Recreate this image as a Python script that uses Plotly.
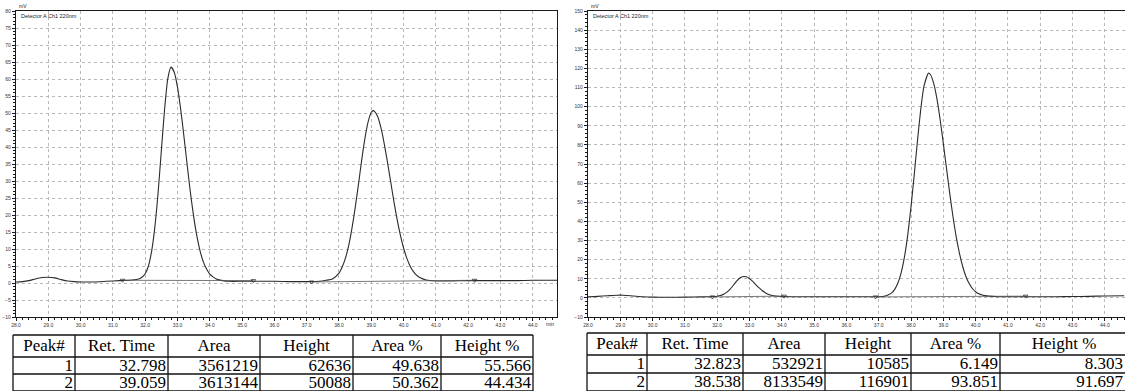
import plotly.graph_objects as go

# ---------------- data ----------------
left_time = [28.0, 28.2, 28.4, 28.6, 28.8, 29.0, 29.2, 29.4, 29.6, 29.8, 30.0, 30.4, 30.8, 31.2, 31.6, 31.8,
             31.9, 32.0, 32.1, 32.2, 32.3, 32.4, 32.5, 32.6, 32.7, 32.8, 32.9, 33.0, 33.1, 33.2, 33.3, 33.4,
             33.5, 33.6, 33.7, 33.8, 33.9, 34.0, 34.1, 34.2, 34.4, 34.6, 35.0, 35.5, 36.0, 36.5, 37.0, 37.4,
             37.6, 37.8, 38.0, 38.1, 38.2, 38.3, 38.4, 38.5, 38.6, 38.7, 38.8, 38.9, 39.0, 39.06, 39.1, 39.2,
             39.3, 39.4, 39.5, 39.6, 39.7, 39.8, 39.9, 40.0, 40.1, 40.2, 40.3, 40.4, 40.5, 40.7, 41.0, 41.5,
             42.0, 42.5, 43.0, 43.5, 44.0, 44.75]
left_mv = [0.3, 0.4, 0.7, 1.2, 1.6, 1.7, 1.5, 1.0, 0.6, 0.4, 0.3, 0.3, 0.5, 0.7, 0.9, 1.2,
           1.7, 2.7, 5.0, 9.4, 16.5, 26.6, 38.9, 51.0, 60.1, 63.5, 62.0, 57.6, 51.0, 43.1, 34.7, 26.6,
           19.6, 13.8, 9.4, 6.2, 4.1, 2.6, 1.8, 1.2, 0.7, 0.5, 0.5, 0.5, 0.5, 0.4, 0.4, 0.5,
           0.8, 1.2, 2.9, 4.7, 7.3, 11.0, 16.0, 22.0, 28.8, 35.9, 42.3, 47.3, 50.2, 50.7, 50.5, 48.9,
           45.6, 41.0, 35.6, 29.8, 24.0, 18.7, 14.1, 10.3, 7.3, 5.0, 3.4, 2.3, 1.6, 0.9, 0.6, 0.6,
           0.7, 0.7, 0.7, 0.7, 0.8, 0.8]

right_time = [28.0, 28.3, 28.6, 28.9, 29.1, 29.4, 29.7, 30.0, 30.5, 31.0, 31.5, 31.9, 32.0, 32.1, 32.2, 32.3,
              32.4, 32.5, 32.6, 32.7, 32.82, 32.9, 33.0, 33.1, 33.2, 33.3, 33.4, 33.5, 33.6, 33.7, 33.8, 34.0,
              34.5, 35.0, 35.5, 36.0, 36.5, 37.0, 37.2, 37.3, 37.4, 37.5, 37.6, 37.7, 37.8, 37.9, 38.0, 38.1,
              38.2, 38.3, 38.4, 38.54, 38.6, 38.7, 38.8, 38.9, 39.0, 39.1, 39.2, 39.3, 39.4, 39.5, 39.6, 39.7,
              39.8, 39.9, 40.0, 40.1, 40.2, 40.4, 40.7, 41.0, 41.5, 42.0, 42.5, 43.0, 43.5, 44.0, 44.6]
right_mv = [0.6, 0.8, 1.1, 1.4, 1.4, 1.0, 0.6, 0.4, 0.3, 0.4, 0.5, 0.7, 0.85, 1.2, 1.85, 3.0,
            4.6, 6.6, 8.7, 10.4, 11.2, 11.0, 10.0, 8.6, 6.85, 5.2, 3.7, 2.6, 1.75, 1.25, 0.95, 0.7,
            0.6, 0.6, 0.6, 0.6, 0.6, 0.6, 1.0, 1.6, 2.6, 4.6, 8.0, 13.5, 21.7, 33.1, 47.6, 64.4,
            82.1, 98.3, 110.6, 117.5, 116.8, 112.3, 104.3, 93.4, 80.8, 67.5, 54.5, 42.4, 31.9, 23.3, 16.4, 11.2,
            7.5, 4.9, 3.2, 2.1, 1.5, 0.9, 0.6, 0.6, 0.6, 0.6, 0.6, 0.7, 0.8, 1.0, 1.1]

# integration marks (start / end of each peak)
left_mark_time = [31.3, 35.35, 37.15, 42.2]
left_mark_mv = [0.8, 0.7, 0.3, 0.8]
right_mark_time = [31.85, 34.07, 36.9, 41.55]
right_mark_mv = [0.5, 0.9, 0.5, 0.9]

x_ticks = [28.0, 29.0, 30.0, 31.0, 32.0, 33.0, 34.0, 35.0, 36.0, 37.0, 38.0, 39.0, 40.0, 41.0, 42.0, 43.0, 44.0]
x_tick_text = ["28.0", "29.0", "30.0", "31.0", "32.0", "33.0", "34.0", "35.0", "36.0",
               "37.0", "38.0", "39.0", "40.0", "41.0", "42.0", "43.0", "44.0"]
left_y_ticks = [-10, -5, 0, 5, 10, 15, 20, 25, 30, 35, 40, 45, 50, 55, 60, 65, 70, 75, 80]
right_y_ticks = [-10, 0, 10, 20, 30, 40, 50, 60, 70, 80, 90, 100, 110, 120, 130, 140, 150]

table_header = ["Peak#", "Ret. Time", "Area", "Height", "Area %", "Height %"]
left_peak = ["1", "2"]
left_ret = ["32.798", "39.059"]
left_area = ["3561219", "3613144"]
left_height = ["62636", "50088"]
left_area_pct = ["49.638", "50.362"]
left_height_pct = ["55.566", "44.434"]
right_peak = ["1", "2"]
right_ret = ["32.823", "38.538"]
right_area = ["532921", "8133549"]
right_height = ["10585", "116901"]
right_area_pct = ["6.149", "93.851"]
right_height_pct = ["8.303", "91.697"]

# ---------------- figure ----------------
W, H = 1125, 391
LINE = "#1a1a1a"
TRACE = "#2b2b2b"
GRID = "#b8b8b8"
SERIF = "Liberation Serif"

fig = go.Figure()


def add_panel(xa, ya, t, v, mt, mv):
    fig.add_trace(go.Scatter(x=t, y=v, mode="lines",
                             line=dict(color=TRACE, width=1.1, shape="spline", smoothing=0.6),
                             xaxis=xa, yaxis=ya, showlegend=False, hoverinfo="skip"))
    for i in (0, 2):
        fig.add_trace(go.Scatter(x=[mt[i], mt[i + 1]], y=[mv[i], mv[i + 1]], mode="lines",
                                 line=dict(color="#555", width=0.8), xaxis=xa, yaxis=ya,
                                 showlegend=False, hoverinfo="skip"))
    fig.add_trace(go.Scatter(x=mt, y=mv, mode="markers",
                             marker=dict(symbol="triangle-down-open", size=4, color="#333", line=dict(width=0.8)),
                             xaxis=xa, yaxis=ya, showlegend=False, hoverinfo="skip"))


add_panel("x", "y", left_time, left_mv, left_mark_time, left_mark_mv)
add_panel("x2", "y2", right_time, right_mv, right_mark_time, right_mark_mv)


# ---------- tables, drawn on a page-pixel axis (x3 / y3) ----------
def add_table(x0, top, col_w, head_h, row_h, columns):
    edges = [x0]
    for w in col_w:
        edges.append(edges[-1] + w)
    row_edges = [top, top + head_h]
    for _ in columns[0]:
        row_edges.append(row_edges[-1] + row_h)
    lx, ly = [], []
    for ry in row_edges:
        lx += [edges[0], edges[-1], None]
        ly += [ry, ry, None]
    for cx in edges:
        lx += [cx, cx, None]
        ly += [row_edges[0], row_edges[-1], None]
    fig.add_trace(go.Scatter(x=lx, y=ly, mode="lines", line=dict(color="#111", width=1.3),
                             xaxis="x3", yaxis="y3", showlegend=False, hoverinfo="skip", cliponaxis=False))
    hx = [(edges[i] + edges[i + 1]) / 2 for i in range(len(col_w))]
    hy = [top + head_h / 2 + 1] * len(col_w)
    fig.add_trace(go.Scatter(x=hx, y=hy, mode="text", text=table_header, textposition="middle center",
                             textfont=dict(family=SERIF, size=17, color="black"),
                             xaxis="x3", yaxis="y3", showlegend=False, hoverinfo="skip", cliponaxis=False))
    bx, by, bt = [], [], []
    for ci, col in enumerate(columns):
        for ri, val in enumerate(col):
            bx.append(min(edges[ci + 1], W) - 2)
            by.append(row_edges[ri + 1] + row_h / 2 + 1)
            bt.append(val)
    fig.add_trace(go.Scatter(x=bx, y=by, mode="text", text=bt, textposition="middle left",
                             textfont=dict(family=SERIF, size=17, color="black"),
                             xaxis="x3", yaxis="y3", showlegend=False, hoverinfo="skip", cliponaxis=False))


add_table(13, 335, [62, 93, 92, 93, 88, 92], 22, 17,
          [left_peak, left_ret, left_area, left_height, left_area_pct, left_height_pct])
add_table(587, 333, [60, 96, 82, 86, 89, 128], 22, 18,
          [right_peak, right_ret, right_area, right_height, right_area_pct, right_height_pct])

y_dom = [1 - 317 / H, 1 - 11 / H]
common_x = dict(tickmode="array", tickvals=x_ticks, ticktext=x_tick_text, tickfont=dict(size=5, color="#333"),
                ticks="outside", ticklen=3, tickcolor=LINE, showline=True, linecolor=LINE, linewidth=1.2,
                mirror=True, showgrid=True, gridcolor=GRID, griddash="dot", gridwidth=1, zeroline=False,
                automargin=False,
                minor=dict(tickmode="linear", tick0=28, dtick=0.2, ticks="outside", ticklen=2, tickcolor=LINE,
                           showgrid=False))
common_y = dict(tickmode="array", tickfont=dict(size=5, color="#333"), ticks="outside", ticklen=3, tickcolor=LINE,
                showline=True, linecolor=LINE, linewidth=1.2, showgrid=True, gridcolor=GRID, griddash="dot",
                gridwidth=1, zeroline=False, domain=y_dom, automargin=False)

fig.update_layout(
    width=W, height=H, margin=dict(l=0, r=0, t=0, b=0, pad=0),
    paper_bgcolor="white", plot_bgcolor="rgba(0,0,0,0)", hovermode=False, dragmode=False,
    font=dict(family="Liberation Sans, Arial, sans-serif", color="#222"),
    xaxis=dict(common_x, domain=[16 / W, 557 / W], range=[28, 44.75], anchor="y"),
    yaxis=dict(common_y, range=[-10, 80], tickvals=left_y_ticks, anchor="x", mirror=True,
               minor=dict(tickmode="linear", tick0=0, dtick=1, ticks="outside", ticklen=1.5, tickcolor=LINE,
                          showgrid=False)),
    xaxis2=dict(common_x, domain=[588 / W, 1.0], range=[28, 44.625], anchor="y2"),
    yaxis2=dict(common_y, range=[-10, 150], tickvals=right_y_ticks, anchor="x2", mirror=False,
                minor=dict(tickmode="linear", tick0=0, dtick=2, ticks="outside", ticklen=1.5, tickcolor=LINE,
                           showgrid=False)),
    xaxis3=dict(domain=[0, 1], range=[0, W], visible=False, fixedrange=True, anchor="y3", automargin=False),
    yaxis3=dict(domain=[0, 1], range=[H, 0], visible=False, fixedrange=True, anchor="x3", automargin=False),
    annotations=[
        dict(text="Detector A Ch1 220nm", xref="x domain", yref="y domain", x=0.006, y=1.0, xanchor="left",
             yanchor="top", showarrow=False, font=dict(size=5.5, color="#222")),
        dict(text="mV", xref="x domain", yref="y domain", x=0.002, y=1.0, xanchor="left",
             yanchor="bottom", showarrow=False, font=dict(size=5, color="#222")),
        dict(text="min", xref="x", yref="y domain", x=44.72, y=0, xanchor="right", yanchor="top",
             showarrow=False, font=dict(size=5, color="#333"), yshift=-2),
        dict(text="Detector A Ch1 220nm", xref="x2 domain", yref="y2 domain", x=0.006, y=1.0, xanchor="left",
             yanchor="top", showarrow=False, font=dict(size=5.5, color="#222")),
        dict(text="mV", xref="x2 domain", yref="y2 domain", x=0.002, y=1.0, xanchor="left",
             yanchor="bottom", showarrow=False, font=dict(size=5, color="#222")),
    ],
)

fig.write_html("out.html", config={"displayModeBar": False, "staticPlot": True},
               post_script="document.body.style.margin='0';document.body.style.overflow='hidden';")
